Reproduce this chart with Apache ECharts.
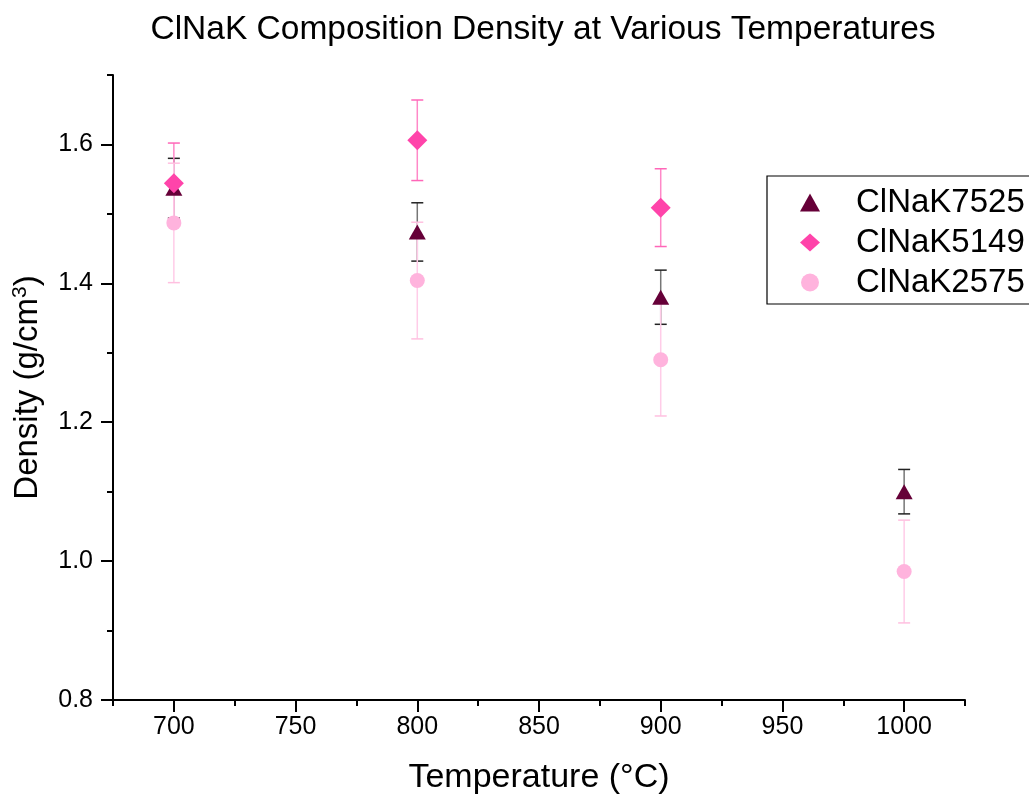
<!DOCTYPE html>
<html>
<head>
<meta charset="utf-8">
<script src="https://cdn.jsdelivr.net/npm/echarts@6/dist/echarts.min.js"></script>
<style>html,body{margin:0;padding:0;background:#fff}#c{width:1029px;height:801px}</style>
</head>
<body>
<div id="c"></div>
<script>
// Data
const temps = [700, 800, 900, 1000];
const k7525 = [1.537, 1.474, 1.380, 1.100];
const k7525Err = [0.043, 0.042, 0.039, 0.032];
const k5149 = [1.544, 1.606, 1.509, null];
const k5149Err = [0.058, 0.058, 0.056, null];
const k2575 = [1.487, 1.404, 1.290, 0.985];
const k2575Err = [0.086, 0.084, 0.081, 0.074];
const xMajorTicks = [700, 750, 800, 850, 900, 950, 1000];
const yMajorTicks = [0.8, 1.0, 1.2, 1.4, 1.6];

const FONT = '"Liberation Sans", Arial, sans-serif';

function pts(vals) {
  return temps.map((t, i) => vals[i] == null ? null : [t, vals[i]]).filter(Boolean);
}
function errData(vals, errs) {
  return temps.map((t, i) => vals[i] == null ? null : [t, vals[i] - errs[i], vals[i] + errs[i]]).filter(Boolean);
}
function errSeries(name, vals, errs, lineColor, capColor) {
  return {
    type: 'custom',
    name: name + ' err',
    xAxisIndex: 0, yAxisIndex: 0,
    data: errData(vals, errs),
    silent: true,
    renderItem: function (params, api) {
      const x = api.value(0);
      const lo = api.coord([x, api.value(1)]);
      const hi = api.coord([x, api.value(2)]);
      const hw = 6;
      return {
        type: 'group',
        children: [
          {type: 'line', shape: {x1: lo[0], y1: lo[1], x2: hi[0], y2: hi[1]}, style: {stroke: lineColor, lineWidth: 1.5}},
          {type: 'line', shape: {x1: lo[0] - hw, y1: lo[1], x2: lo[0] + hw, y2: lo[1]}, style: {stroke: capColor, lineWidth: 1.5}},
          {type: 'line', shape: {x1: hi[0] - hw, y1: hi[1], x2: hi[0] + hw, y2: hi[1]}, style: {stroke: capColor, lineWidth: 1.5}}
        ]
      };
    },
    z: 2
  };
}

const c1 = '#660038', c2 = '#FF44AA', c3 = '#FFB3DD';
const chart = echarts.init(document.getElementById('c'));
const gridPos = {left: 113, right: 64, top: 75, bottom: 101};
chart.setOption({
  animation: false,
  backgroundColor: '#fff',
  title: {
    text: 'ClNaK Composition Density at Various Temperatures',
    left: 538, top: 8, textAlign: 'center',
    textStyle: {fontFamily: FONT, fontSize: 33.5, fontWeight: 'normal', color: '#000'}
  },
  legend: {
    orient: 'vertical',
    left: 767, top: 176,
    data: ['ClNaK7525', 'ClNaK5149', 'ClNaK2575'],
    itemWidth: 20, itemHeight: 18, itemGap: 7,
    padding: [10, 40, 5, 33],
    borderColor: '#000', borderWidth: 1.2, borderRadius: 0,
    textStyle: {fontFamily: FONT, fontSize: 33, lineHeight: 32, color: '#000', padding: [0, 0, 0, 31]}
  },
  grid: [
    Object.assign({}, gridPos),
    Object.assign({}, gridPos)
  ],
  xAxis: [
    {
      type: 'value', gridIndex: 0, min: 675, max: 1025,
      name: 'Temperature (°C)', nameLocation: 'middle', nameGap: 61,
      nameTextStyle: {fontFamily: FONT, fontSize: 34, color: '#000'},
      axisLine: {show: true, onZero: false, lineStyle: {color: '#000', width: 2}},
      axisTick: {show: true, inside: false, length: 12, customValues: xMajorTicks, lineStyle: {color: '#000', width: 2}},
      axisLabel: {customValues: xMajorTicks, margin: 15, fontFamily: FONT, fontSize: 25, color: '#000',
        formatter: v => String(v)},
      splitLine: {show: false}
    },
    {
      type: 'value', gridIndex: 1, min: 675, max: 1025, interval: 25,
      axisLine: {show: false},
      axisTick: {show: true, inside: false, length: 6, lineStyle: {color: '#000', width: 2}},
      axisLabel: {show: false},
      splitLine: {show: false}
    }
  ],
  yAxis: [
    {
      type: 'value', gridIndex: 0, min: 0.8, max: 1.7,
      name: '{a|Density (g/cm}{s|3}{a|)}', nameLocation: 'middle', nameGap: 68, nameRotate: 90,
      nameTextStyle: {fontFamily: FONT, fontSize: 33, color: '#000',
        rich: {
          a: {fontFamily: FONT, fontSize: 33, color: '#000'},
          s: {fontFamily: FONT, fontSize: 21, color: '#000', verticalAlign: 'top', padding: [0, 0, 14, 0]}
        }},
      axisLine: {show: true, onZero: false, lineStyle: {color: '#000', width: 2}},
      axisTick: {show: true, inside: false, length: 12, customValues: yMajorTicks, lineStyle: {color: '#000', width: 2}},
      axisLabel: {customValues: yMajorTicks, margin: 20, fontFamily: FONT, fontSize: 25, color: '#000',
        formatter: v => v.toFixed(1)},
      splitLine: {show: false}
    },
    {
      type: 'value', gridIndex: 1, min: 0.8, max: 1.7, interval: 0.1,
      axisLine: {show: false},
      axisTick: {show: true, inside: false, length: 6, lineStyle: {color: '#000', width: 2}},
      axisLabel: {show: false},
      splitLine: {show: false}
    }
  ],
  series: [
    errSeries('ClNaK7525', k7525, k7525Err, 'rgba(60,60,60,0.7)', '#222'),
    errSeries('ClNaK5149', k5149, k5149Err, '#FF88C8', '#FF66B8'),
    errSeries('ClNaK2575', k2575, k2575Err, '#FFCCE8', '#FFC0E0'),
    {
      type: 'scatter', name: 'ClNaK7525', xAxisIndex: 0, yAxisIndex: 0,
      data: pts(k7525), symbol: 'triangle', symbolSize: [17, 15],
      itemStyle: {color: c1, opacity: 1}, z: 3
    },
    {
      type: 'scatter', name: 'ClNaK5149', xAxisIndex: 0, yAxisIndex: 0,
      data: pts(k5149), symbol: 'diamond', symbolSize: [20, 20],
      itemStyle: {color: c2, opacity: 1}, z: 3
    },
    {
      type: 'scatter', name: 'ClNaK2575', xAxisIndex: 0, yAxisIndex: 0,
      data: pts(k2575), symbol: 'circle', symbolSize: 15,
      itemStyle: {color: c3, opacity: 1}, z: 3
    }
  ]
});
</script>
</body>
</html>
